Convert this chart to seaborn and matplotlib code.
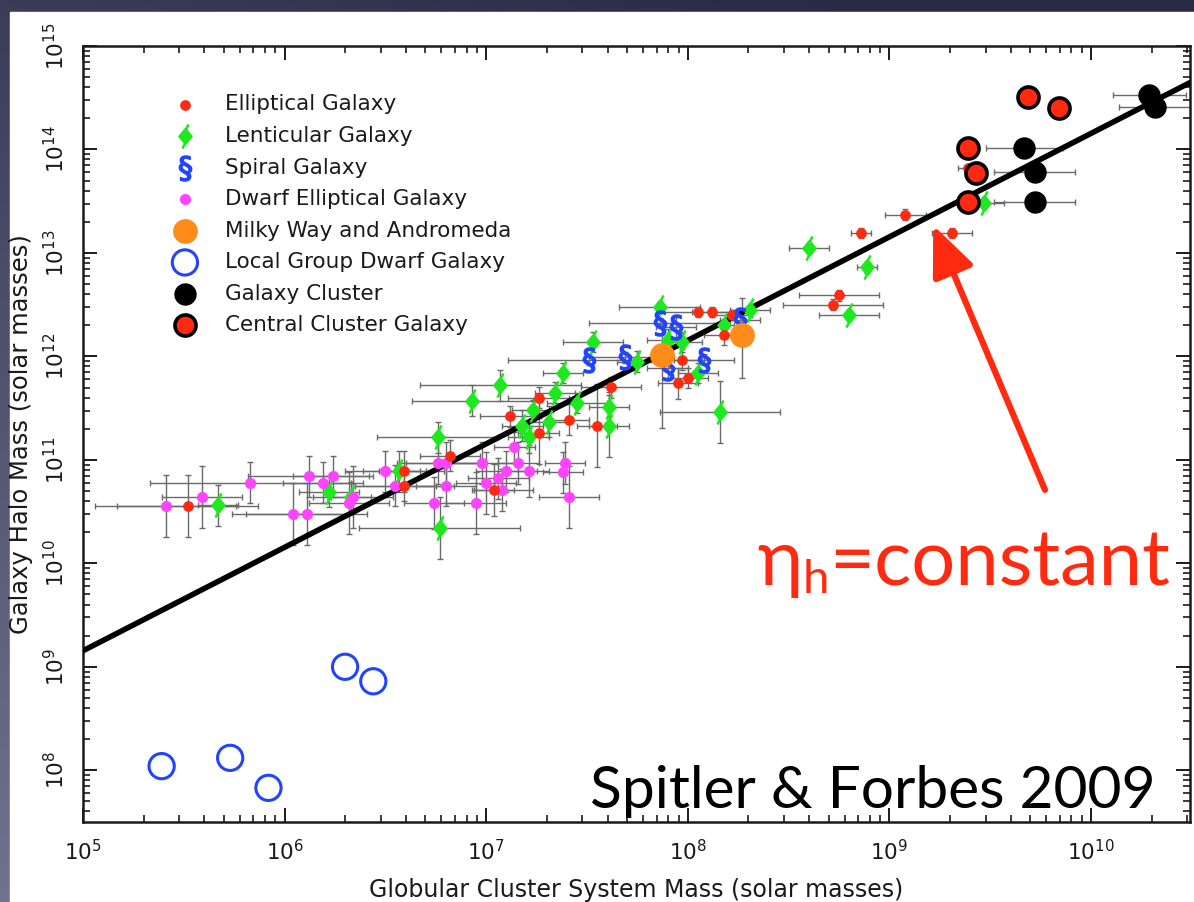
import numpy as np
import pandas as pd
import matplotlib
matplotlib.use("Agg")
import matplotlib.pyplot as plt
from matplotlib.path import Path
from matplotlib.patches import Rectangle
from matplotlib.ticker import LogLocator, NullFormatter, FixedLocator
import seaborn as sns

# ---- data: log10 masses (solar masses) and log10 uncertainties (dex) ----
ell_gcs = [5.52, 6.59, 6.59, 6.82, 7.04, 7.12, 7.26, 7.26, 7.41, 7.55, 7.62, 7.97,
           7.95, 8.00, 8.05, 8.12, 8.22, 8.18, 8.72, 8.75, 8.86, 9.08, 9.31, 9.39]
ell_halo = [10.55, 10.89, 10.75, 11.04, 10.71, 11.42, 11.60, 11.26, 11.39, 11.33, 11.70, 11.97,
            11.74, 11.79, 12.43, 12.43, 12.40, 12.21, 12.50, 12.59, 13.19, 13.37, 13.19, 13.82]
ell_gcs_err = [0.35, 0.2, 0.25, 0.15, 0.1, 0.15, 0.15, 0.1, 0.1, 0.1, 0.15, 0.1,
               0.1, 0.1, 0.2, 0.1, 0.1, 0.1, 0.25, 0.2, 0.05, 0.1, 0.1, 0.05]
ell_halo_err = [0.3, 0.2, 0.15, 0.15, 0.25, 0.1, 0.1, 0.3, 0.15, 0.4, 0.1, 0.1,
                0.15, 0.1, 0.05, 0.05, 0.05, 0.1, 0.05, 0.05, 0.05, 0.05, 0.05, 0.03]

len_gcs = [5.67, 6.22, 6.33, 6.57, 6.76, 6.77, 6.93, 7.07, 7.18, 7.21, 7.23, 7.31, 7.34, 7.38, 7.45,
           7.53, 7.61, 7.61, 7.75, 7.86, 7.90, 7.97, 8.05, 8.16, 8.31, 8.18, 8.60, 8.89, 8.80, 9.47]
len_halo = [10.56, 10.69, 10.64, 10.89, 11.22, 10.34, 11.57, 11.72, 11.33, 11.22, 11.48, 11.37, 11.65,
            11.84, 11.55, 12.14, 11.51, 11.33, 11.95, 12.48, 12.16, 12.14, 11.84, 11.46, 12.45, 12.30,
            13.05, 12.86, 12.40, 13.48]
len_gcs_err = [0.1, 0.15, 0.1, 0.1, 0.3, 0.4, 0.3, 0.4, 0.1, 0.1, 0.1, 0.1, 0.1, 0.1, 0.15,
               0.15, 0.1, 0.1, 0.1, 0.2, 0.1, 0.1, 0.1, 0.3, 0.1, 0.05, 0.1, 0.05, 0.15, 0.1]
len_halo_err = [0.2, 0.15, 0.15, 0.2, 0.15, 0.3, 0.15, 0.15, 0.15, 0.15, 0.1, 0.15, 0.1, 0.1, 0.1,
                0.1, 0.15, 0.3, 0.1, 0.05, 0.1, 0.1, 0.1, 0.3, 0.05, 0.05, 0.05, 0.05, 0.05, 0.05]

sp_gcs = [7.51, 7.69, 7.86, 7.94, 8.08, 8.26, 7.90]
sp_halo = [11.97, 11.99, 12.32, 12.28, 11.97, 12.35, 11.89]
sp_gcs_err = [0.4, 0.2, 0.35, 0.1, 0.15, 0.1, 0.1]
sp_halo_err = [0.05, 0.05, 0.05, 0.1, 0.05, 0.05, 0.1]

de_gcs = [5.41, 5.59, 5.83, 6.04, 6.11, 6.12, 6.19, 6.24, 6.32, 6.34, 6.50, 6.55, 6.76, 6.80,
          6.80, 6.74, 6.95, 6.98, 7.00, 7.06, 7.08, 7.10, 7.14, 7.16, 7.21, 7.39, 7.38, 7.41]
de_halo = [10.55, 10.64, 10.78, 10.48, 10.48, 10.84, 10.78, 10.84, 10.58, 10.64, 10.89, 10.75, 10.97,
           10.97, 10.75, 10.58, 10.58, 10.97, 10.78, 10.82, 10.71, 10.89, 11.12, 10.97, 10.89, 10.97,
           10.88, 10.64]
de_gcs_err = [0.35, 0.2, 0.5, 0.3, 0.3, 0.3, 0.2, 0.2, 0.2, 0.2, 0.2, 0.2, 0.2, 0.2,
              0.15, 0.15, 0.15, 0.2, 0.15, 0.15, 0.15, 0.15, 0.1, 0.1, 0.1, 0.1, 0.1, 0.15]
de_halo_err = [0.3, 0.3, 0.2, 0.3, 0.3, 0.2, 0.2, 0.2, 0.3, 0.3, 0.2, 0.2, 0.2, 0.2,
               0.2, 0.25, 0.3, 0.2, 0.3, 0.2, 0.2, 0.2, 0.15, 0.2, 0.25, 0.2, 0.2, 0.3]

mw_gcs = [7.87, 8.27]
mw_halo = [12.01, 12.21]
mw_gcs_err = [0.05, 0.05]
mw_halo_err_lo = [0.70, 0.42]
mw_halo_err_hi = [0.30, 0.35]

lg_gcs = [5.39, 5.73, 5.92, 6.30, 6.44]
lg_halo = [8.04, 8.12, 7.83, 9.00, 8.86]

cl_gcs = [10.29, 10.32, 9.67, 9.72, 9.72]
cl_halo = [14.53, 14.41, 14.01, 13.78, 13.49]
cl_gcs_err = [0.18, 0.18, 0.19, 0.20, 0.20]

ccg_gcs = [9.69, 9.84, 9.39, 9.43, 9.39]
ccg_halo = [14.51, 14.40, 14.01, 13.77, 13.49]

# constant ratio of globular cluster system mass to halo mass
eta_h = 7e-5

x_range = (1e5, 3.1e10)
y_range = (10 ** 7.5, 1e15)
x_ticks = [1e5, 1e6, 1e7, 1e8, 1e9, 1e10]
y_ticks = [1e8, 1e9, 1e10, 1e11, 1e12, 1e13, 1e14, 1e15]

labels = ["Elliptical Galaxy", "Lenticular Galaxy", "Spiral Galaxy", "Dwarf Elliptical Galaxy",
          "Milky Way and Andromeda", "Local Group Dwarf Galaxy", "Galaxy Cluster",
          "Central Cluster Galaxy"]

# ---- styling ----
sns.set_style("ticks")
plt.rcParams["font.family"] = ["DejaVu Sans"]
plt.rcParams["mathtext.fontset"] = "dejavusans"

RED = "#ff2a10"
GREEN = "#1ee81e"
BLUE = "#2244ff"
MAGENTA = "#ff44ff"
ORANGE = "#ff8c1a"
INK = "#1a1a1a"
ERR = "#6a6a6a"

# lenticular glyph: filled diamond with a stroke through the tips
lent_marker = Path(
    [(0, 0.6), (0.5, 0), (0, -0.6), (-0.5, 0), (0, 0.6),
     (0.0, 0.5), (0.25, 1.0), (0.0, -0.5), (-0.25, -1.0)],
    [Path.MOVETO, Path.LINETO, Path.LINETO, Path.LINETO, Path.CLOSEPOLY,
     Path.MOVETO, Path.LINETO, Path.MOVETO, Path.LINETO])

W, H, DPI = 1194, 902, 100
fig = plt.figure(figsize=(W / DPI, H / DPI), dpi=DPI)

# slide backdrop: dark at the top, lighter towards the lower left, with a white panel
bg = fig.add_axes([0, 0, 1, 1], zorder=-10)
yy, xx = np.mgrid[0:1:200j, 0:1:200j]
t = np.clip(0.75 * (1 - yy) + 0.35 * (1 - xx) - 0.1, 0, 1)
dark = np.array([0x2b, 0x2a, 0x46]) / 255
light = np.array([0x72, 0x72, 0x8e]) / 255
grad = dark[None, None, :] * (1 - t[..., None]) + light[None, None, :] * t[..., None]
bg.imshow(grad, extent=(0, 1, 0, 1), origin="lower", aspect="auto")
bg.add_patch(Rectangle((10 / W, 0), 1, 1 - 12 / H, color="white", transform=bg.transAxes))
bg.set_axis_off()

ax = fig.add_axes([83 / W, 80 / H, 1107 / W, 776 / H], zorder=1)
ax.set_xscale("log")
ax.set_yscale("log")


def frame(gcs, halo, label):
    return pd.DataFrame({"gcs": np.power(10.0, gcs), "halo": np.power(10.0, halo), "type": label})


def errbars(gcs, halo, gcs_err, halo_lo, halo_hi=None):
    g = np.asarray(gcs, float)
    h = np.asarray(halo, float)
    if halo_hi is None:
        halo_hi = halo_lo
    x = 10 ** g
    y = 10 ** h
    xe = [x - 10 ** (g - np.asarray(gcs_err)), 10 ** (g + np.asarray(gcs_err)) - x]
    ye = [y - 10 ** (h - np.asarray(halo_lo)), 10 ** (h + np.asarray(halo_hi)) - y]
    ax.errorbar(x, y, xerr=xe, yerr=ye, fmt="none", ecolor=ERR, elinewidth=1.0,
                capsize=2.2, capthick=1.0, zorder=2)


# error bars underneath the symbols
errbars(de_gcs, de_halo, de_gcs_err, de_halo_err)
errbars(ell_gcs, ell_halo, ell_gcs_err, ell_halo_err)
errbars(len_gcs, len_halo, len_gcs_err, len_halo_err)
errbars(sp_gcs, sp_halo, sp_gcs_err, sp_halo_err)
errbars(mw_gcs, mw_halo, mw_gcs_err, mw_halo_err_lo, mw_halo_err_hi)
errbars(cl_gcs, cl_halo, cl_gcs_err, np.zeros(len(cl_gcs)))

# constant-ratio relation
line_x = np.array(x_range)
sns.lineplot(x=line_x, y=line_x / eta_h, color="black", linewidth=4.0, ax=ax, zorder=3,
             legend=False)

# symbols, in legend order
kw = dict(ax=ax, x="gcs", y="halo", legend=False)
sns.scatterplot(data=frame(ell_gcs, ell_halo, labels[0]), color=RED, marker="o", s=60,
                linewidth=0, zorder=5, label=labels[0], **kw)
sns.scatterplot(data=frame(len_gcs, len_halo, labels[1]), color=GREEN, marker=lent_marker,
                s=300, edgecolor=GREEN, linewidth=1.8, zorder=4, label=labels[1], **kw)
sns.scatterplot(data=frame(sp_gcs, sp_halo, labels[2]), color=BLUE, marker=r"$\S$", s=320,
                linewidth=1.2, edgecolor=BLUE, zorder=5, label=labels[2], **kw)
sns.scatterplot(data=frame(de_gcs, de_halo, labels[3]), color=MAGENTA, marker="o", s=65,
                linewidth=0, zorder=4, label=labels[3], **kw)
sns.scatterplot(data=frame(mw_gcs, mw_halo, labels[4]), color=ORANGE, marker="o", s=320,
                linewidth=0, zorder=6, label=labels[4], **kw)
sns.scatterplot(data=frame(lg_gcs, lg_halo, labels[5]), facecolor="none", edgecolor=BLUE,
                marker="o", s=330, linewidth=2.2, zorder=6, label=labels[5], **kw)
sns.scatterplot(data=frame(cl_gcs, cl_halo, labels[6]), color="black", marker="o", s=260,
                linewidth=0, zorder=6, label=labels[6], **kw)
sns.scatterplot(data=frame(ccg_gcs, ccg_halo, labels[7]), color=RED, edgecolor="black",
                marker="o", s=230, linewidth=2.6, zorder=7, label=labels[7], **kw)

ax.set_xlim(*x_range)
ax.set_ylim(*y_range)
ax.xaxis.set_major_locator(FixedLocator(x_ticks))
ax.yaxis.set_major_locator(FixedLocator(y_ticks))
ax.xaxis.set_minor_locator(LogLocator(base=10, subs=np.arange(2, 10), numticks=30))
ax.yaxis.set_minor_locator(LogLocator(base=10, subs=np.arange(2, 10), numticks=30))
ax.xaxis.set_minor_formatter(NullFormatter())
ax.yaxis.set_minor_formatter(NullFormatter())

for s in ax.spines.values():
    s.set_linewidth(1.8)
    s.set_color(INK)
ax.tick_params(which="both", direction="in", top=True, right=True, color=INK)
ax.tick_params(which="major", length=10, width=1.4, labelsize=15.5, labelcolor=INK)
ax.tick_params(which="minor", length=5, width=1.2)
ax.tick_params(axis="x", which="major", pad=12)
ax.tick_params(axis="y", which="major", pad=11, labelrotation=90)
for lab in ax.get_yticklabels():
    lab.set_verticalalignment("center")

ax.set_xlabel("Globular Cluster System Mass (solar masses)", fontsize=17, color=INK,
              labelpad=10)
ax.set_ylabel("Galaxy Halo Mass (solar masses)", fontsize=17.5, color=INK, labelpad=7)

leg = ax.legend(loc="upper left", bbox_to_anchor=((172 - 83) / 1107, 1 - (94.5 - 46) / 776),
                frameon=False, fontsize=15.5, borderpad=0, borderaxespad=0,
                handlelength=1.2, handletextpad=1.27, labelspacing=0.535, scatterpoints=1)
for txt in leg.get_texts():
    txt.set_color(INK)

# annotation: constant-ratio label with arrow to the relation
ax.annotate("", xy=(0.768, 0.769), xytext=(0.869, 0.428), xycoords="axes fraction",
            textcoords="axes fraction",
            arrowprops=dict(arrowstyle="-|>,head_length=1.4,head_width=0.6", color=RED, lw=4.5,
                            mutation_scale=22, shrinkA=0, shrinkB=0),
            annotation_clip=False, zorder=8)

fam = ["Lato", "Noto Sans", "DejaVu Sans"]
fig.canvas.draw()
r = fig.canvas.get_renderer()
t1 = fig.text(757 / W, 1 - 585 / H, "η", fontsize=56, color=RED, family=fam, va="baseline")
e1 = t1.get_window_extent(r)
t2 = fig.text(e1.x1 / W, 1 - 593 / H, "h", fontsize=34, color=RED, family=fam, va="baseline")
e2 = t2.get_window_extent(r)
fig.text(e2.x1 / W, 1 - 585 / H, "=constant", fontsize=56, color=RED, family=fam,
         va="baseline")
fig.text(590 / W, 1 - 808 / H, "Spitler & Forbes 2009", fontsize=42.2, color="black",
         family=fam, va="baseline", zorder=10)

fig.savefig("out.png", dpi=DPI)
